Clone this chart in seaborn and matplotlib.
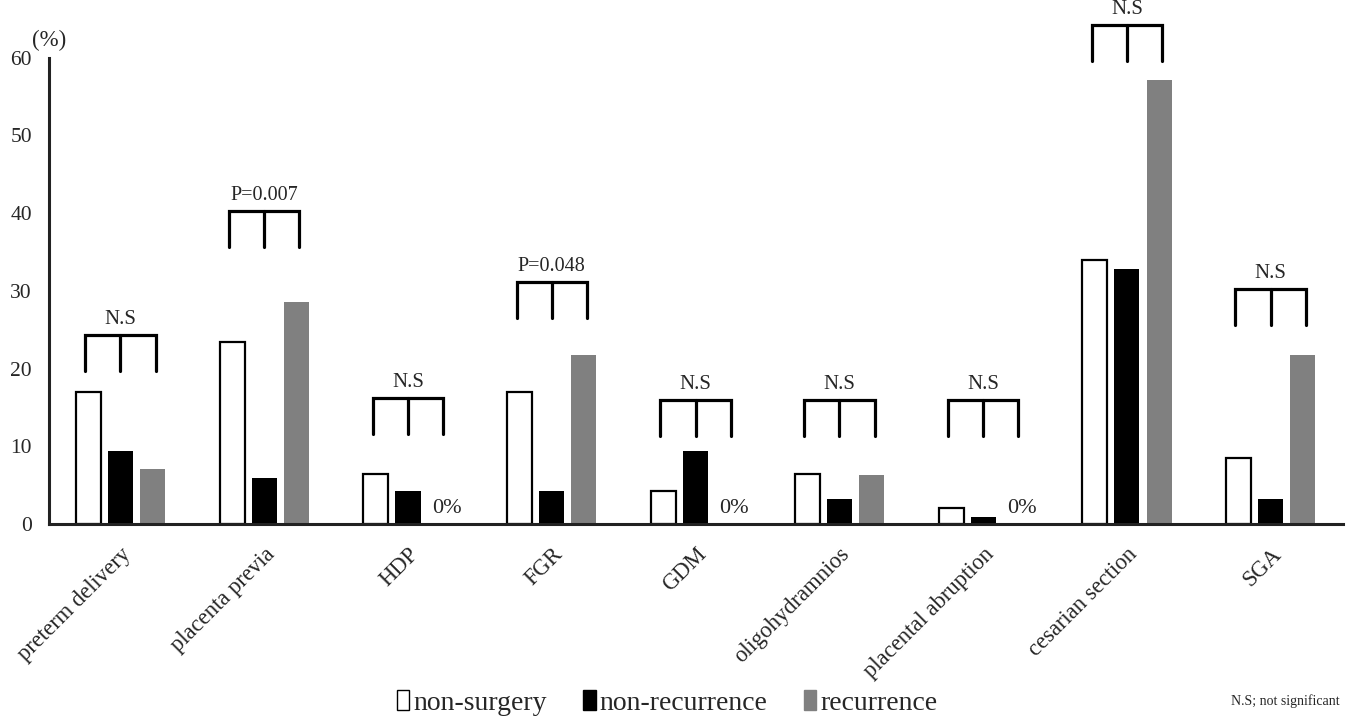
import matplotlib
matplotlib.use("Agg")
import matplotlib.pyplot as plt
import seaborn as sns
import pandas as pd
import numpy as np

# values (%)
categories = ["preterm delivery", "placenta previa", "HDP", "FGR", "GDM",
              "oligohydramnios", "placental abruption", "cesarian section", "SGA"]
groups = ["non-surgery", "non-recurrence", "recurrence"]
non_surgery = [17.0, 23.4, 6.4, 17.0, 4.3, 6.4, 2.1, 34.0, 8.5]
non_recurrence = [9.4, 5.9, 4.3, 4.3, 9.4, 3.3, 0.9, 32.8, 3.3]
recurrence = [7.1, 28.6, 0.0, 21.7, 0.0, 6.3, 0.0, 57.1, 21.7]

# significance labels and bracket top heights
sig_labels = ["N.S", "P=0.007", "N.S", "P=0.048", "N.S", "N.S", "N.S", "N.S", "N.S"]
bracket_tops = [24.3, 40.3, 16.2, 31.1, 16.0, 16.0, 16.0, 64.2, 30.2]

colors = {"non-surgery": "white", "non-recurrence": "black", "recurrence": "#808080"}

df = pd.DataFrame({
    "category": np.repeat(categories, 3),
    "group": groups * len(categories),
    "value": np.ravel(np.column_stack([non_surgery, non_recurrence, recurrence])),
})

sns.set_style("white")
plt.rcParams["font.family"] = ["Liberation Serif", "DejaVu Serif"]

fig = plt.figure(figsize=(13.48, 7.21), dpi=100)
ax = fig.add_axes([0.036, 0.273, 0.96, 0.647])

sns.barplot(data=df, x="category", y="value", hue="group", order=categories,
            hue_order=groups, palette=colors, width=0.67, gap=0.22,
            ax=ax, legend=False)

for cont, g in zip(ax.containers, groups):
    for patch in cont:
        if g == "non-surgery":
            patch.set_edgecolor("black")
            patch.set_linewidth(1.6)
        else:
            patch.set_edgecolor(colors[g])
            patch.set_linewidth(0)

ax.set_ylim(0, 60)
ax.set_xlim(-0.5, 8.5)
ax.set_yticks(range(0, 61, 10))
ax.tick_params(axis="y", length=0, labelsize=15.5, pad=12)
ax.tick_params(axis="x", length=0, labelsize=16.3, pad=14)
ax.set_xticks(range(len(categories)))
ax.set_xticklabels(categories, rotation=45, ha="right", rotation_mode="anchor")
ax.set_xlabel("")
ax.set_ylabel("")
for s in ["top", "right"]:
    ax.spines[s].set_visible(False)
for s in ["left", "bottom"]:
    ax.spines[s].set_color("#222222")
    ax.spines[s].set_linewidth(2.2)

ax.text(-0.38, 60.8, "(%)", fontsize=16.5, ha="right", va="bottom", clip_on=False)

# significance brackets
leg_drop = 4.6
for i, (lab, top) in enumerate(zip(sig_labels, bracket_tops)):
    xs = [i - 0.245, i + 0.245]
    ax.plot([xs[0], xs[0], xs[1], xs[1]], [top - leg_drop, top, top, top - leg_drop],
            color="black", lw=2.3, clip_on=False, solid_joinstyle="miter")
    ax.plot([i, i], [top, top - leg_drop], color="black", lw=2.3, clip_on=False)
    size = 15 if lab == "N.S" else 14.5
    ax.text(i, top + 0.8, lab, ha="center", va="bottom", fontsize=size, clip_on=False)

# zero labels
for i, v in enumerate(recurrence):
    if v == 0:
        ax.text(i + 0.27, 0.8, "0%", ha="center", va="bottom", fontsize=16)

handles = [plt.Rectangle((0, 0), 1, 1, facecolor=colors[g],
                         edgecolor="black" if g == "non-surgery" else colors[g], lw=1)
           for g in groups]
fig.legend(handles, groups, loc="center", bbox_to_anchor=(0.495, 0.025), ncol=3,
           frameon=False, fontsize=20, handlelength=0.45, handleheight=0.75,
           handletextpad=0.15, columnspacing=1.3)

fig.text(0.994, 0.027, "N.S; not significant", ha="right", va="center", fontsize=10)

fig.savefig("out.png", dpi=100)
